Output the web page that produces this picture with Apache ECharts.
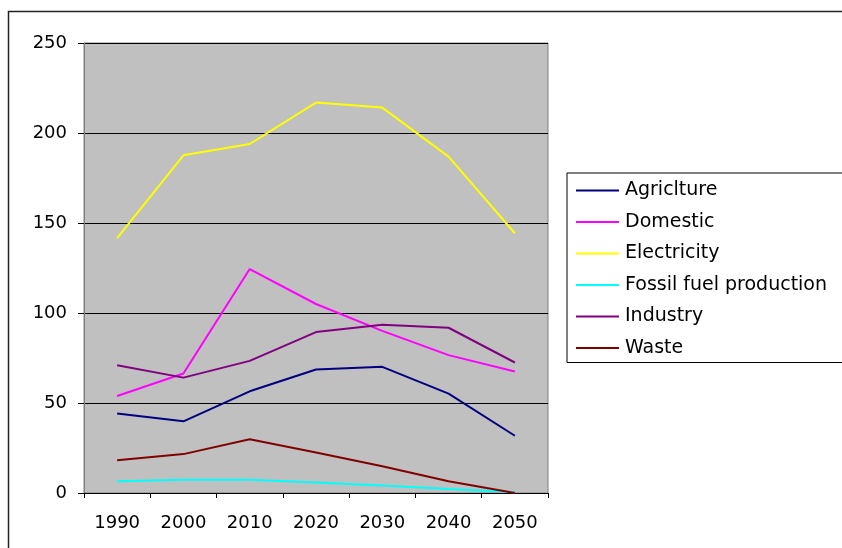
<!DOCTYPE html>
<html>
<head>
<meta charset="utf-8">
<script src="https://cdn.jsdelivr.net/npm/echarts@6/dist/echarts.min.js"></script>
<style>
  html, body { margin: 0; padding: 0; background: #fff; }
  #chart { width: 842px; height: 548px; }
</style>
</head>
<body>
<div id="chart"></div>
<script>
const years = ['1990', '2000', '2010', '2020', '2030', '2040', '2050'];
const seriesNames = ['Agriclture', 'Domestic', 'Electricity', 'Fossil fuel production', 'Industry', 'Waste'];
const seriesColors = ['#000080', '#FF00FF', '#FFFF00', '#00FFFF', '#800080', '#800000'];

const agriculture = [44.2, 39.8, 56.5, 68.6, 70.1, 55.2, 31.8];
const domestic = [53.9, 66.4, 124.4, 105, 90.1, 76.6, 67.5];
const electricity = [141.6, 187.6, 193.9, 216.9, 214.1, 186.9, 144.3];
const fossilFuel = [6.5, 7.4, 7.4, 5.8, 4.1, 2.2, 0.4];
const industry = [71, 64.1, 73.4, 89.4, 93.5, 91.8, 72.5];
const waste = [18.2, 21.6, 29.9, 22.5, 14.9, 6.5, 0];

const seriesData = [agriculture, domestic, electricity, fossilFuel, industry, waste];

const yTicks = { min: 0, max: 250, interval: 50 };

const chart = echarts.init(document.getElementById('chart'));
const font = 'DejaVu Sans, Verdana, sans-serif';

chart.setOption({
  animation: false,
  textStyle: { fontFamily: font },
  color: seriesColors,
  graphic: [
    {
      type: 'rect',
      shape: { x: 8.5, y: 11.5, width: 900, height: 600 },
      style: { fill: 'none', stroke: '#222', lineWidth: 1.5 },
      silent: true
    }
  ],
  grid: {
    left: 84,
    top: 43,
    right: 294,
    bottom: 55,
    show: true,
    backgroundColor: '#C0C0C0',
    borderColor: '#808080',
    borderWidth: 1
  },
  legend: {
    orient: 'vertical',
    left: 567,
    top: 173,
    padding: [8, 40, 5, 9],
    itemGap: 12.5,
    itemWidth: 43,
    itemHeight: 2,
    icon: 'rect',
    borderColor: '#000',
    borderWidth: 1,
    backgroundColor: '#fff',
    textStyle: { fontSize: 19, color: '#000', fontFamily: font, padding: [0, 0, 0, 1] },
    data: seriesNames
  },
  xAxis: {
    type: 'category',
    data: years,
    boundaryGap: true,
    axisLine: { lineStyle: { color: '#000', width: 1 } },
    axisTick: { show: true, length: 5, lineStyle: { color: '#000' } },
    axisLabel: { fontSize: 18, color: '#000', margin: 21, fontFamily: font },
    splitLine: { show: false }
  },
  yAxis: {
    type: 'value',
    min: yTicks.min,
    max: yTicks.max,
    interval: yTicks.interval,
    axisLine: { show: true, lineStyle: { color: '#808080' } },
    axisTick: { show: true, length: 6, lineStyle: { color: '#000' } },
    axisLabel: { fontSize: 18, color: '#000', margin: 17, fontFamily: font },
    splitLine: { show: true, lineStyle: { color: '#000', width: 1 } }
  },
  series: seriesNames.map((name, i) => ({
    name: name,
    type: 'line',
    data: seriesData[i],
    symbol: 'none',
    lineStyle: { width: 2, color: seriesColors[i] },
    itemStyle: { color: seriesColors[i] }
  }))
});
</script>
</body>
</html>
